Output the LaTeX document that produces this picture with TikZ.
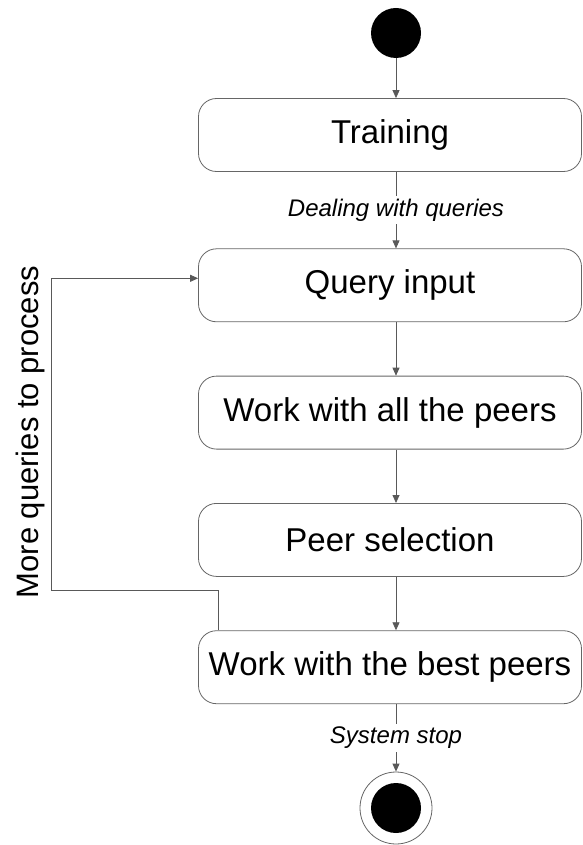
\documentclass[tikz,border=0pt]{standalone}
\usepackage{fontspec}
\setmainfont{Liberation Sans}
\usetikzlibrary{positioning,arrows.meta}
\begin{document}
\begin{tikzpicture}[x=1pt, y=-1pt, node distance=53.5pt,
    activity/.style={rectangle, draw=black!60, line width=0.8pt, rounded corners=18pt,
      minimum width=383pt, minimum height=73pt, inner sep=0pt, font=\fontsize{33}{39}\selectfont},
    flow/.style={draw=black!65, line width=0.8pt, -{Triangle[length=8pt,width=7pt]}},
    guard/.style={font=\fontsize{24}{29}\selectfont\itshape, fill=white, inner sep=3pt}]
    \useasboundingbox (0,0) rectangle (582,845);
    \node [circle, fill=black, minimum size=50pt, inner sep=0pt] (start) at (396,33) {};
    \node [activity] (training) at (390,135) {Training};
    \node [activity, below=76.5pt of training] (query) {Query input};
    \node [activity, below=of query] (allpeers) {Work with all the peers};
    \node [activity, below=of allpeers] (selection) {Peer selection};
    \node [activity, below=of selection] (bestpeers) {Work with the best peers};
    \node [circle, draw=black!60, line width=0.8pt, minimum size=72pt, inner sep=0pt] (stop) at (396,808) {};
    \node [circle, fill=black, minimum size=50pt, inner sep=0pt] (stopdot) at (stop) {};
    \coordinate (loopcorner) at (51,590);
    \node [rotate=90, font=\fontsize{31}{37}\selectfont] (loopnote) at (30,432) {More queries to process};
    % transitions
    \draw [flow] (start) -- (training.north -| start);
    \draw [flow] (training.south -| start) -- node[guard] {Dealing with queries} (query.north -| start);
    \draw [flow] (query.south -| start) -- (allpeers.north -| start);
    \draw [flow] (allpeers.south -| start) -- (selection.north -| start);
    \draw [flow] (selection.south -| start) -- (bestpeers.north -| start);
    \draw [flow] (bestpeers.south -| start) -- node[guard] {System stop} (stop);
    \draw [flow] ([xshift=-172pt]bestpeers.north) |- (loopcorner) |- ([yshift=7pt]query.west);
\end{tikzpicture}
\end{document}
